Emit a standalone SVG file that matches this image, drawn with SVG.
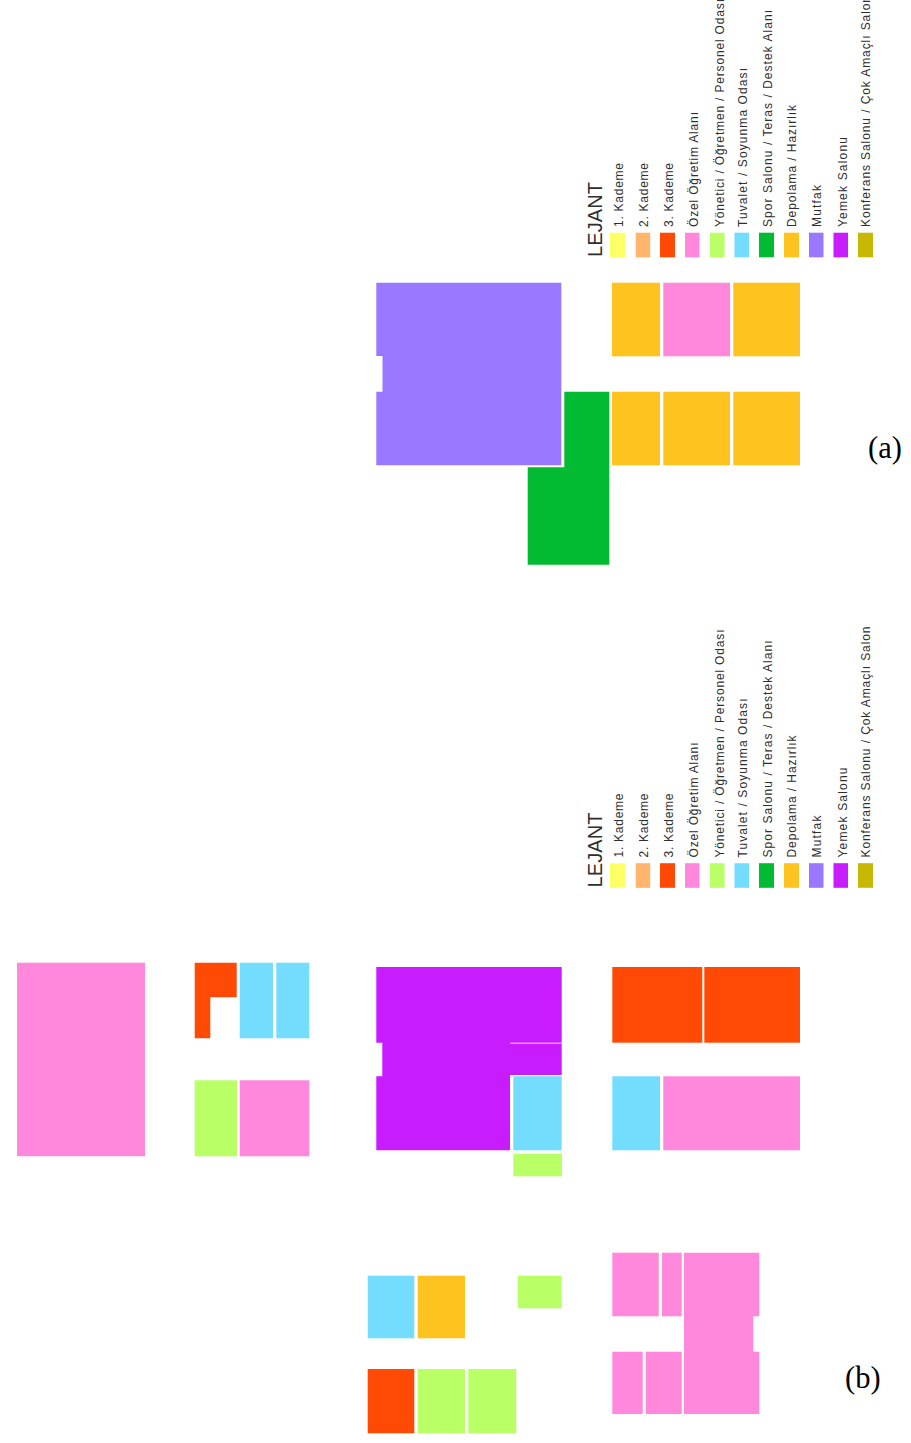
<svg xmlns="http://www.w3.org/2000/svg" width="911" height="1443" viewBox="0 0 911 1443">
<style>
.y{fill:#ffff66}.pe{fill:#ffb56b}.r{fill:#ff4a06}.p{fill:#ff88dd}.l{fill:#b9ff66}.b{fill:#73dcff}.g{fill:#03ba33}.o{fill:#ffc31f}.u{fill:#9977ff}.m{fill:#c81cff}.k{fill:#c8b806}
text{font-family:"Liberation Sans",Arial,sans-serif;fill:#2e2e2e}
.t{font-size:12px}.h{font-size:20px}
.c{font-family:"Liberation Serif","Times New Roman",serif;font-size:30.5px;fill:#000}
</style>
<defs>
<g id="legend">
<text class="h" transform="translate(602,257) rotate(-90)" textLength="75" lengthAdjust="spacing">LEJANT</text>
<rect class="y" x="610" y="232.7" width="15" height="24.6"/>
<rect class="pe" x="635.7" y="232.7" width="14.5" height="24.6"/>
<rect class="r" x="660" y="232.7" width="15" height="24.6"/>
<rect class="p" x="685" y="232.7" width="14.5" height="24.6"/>
<rect class="l" x="710" y="232.7" width="14.5" height="24.6"/>
<rect class="b" x="734.5" y="232.7" width="14.5" height="24.6"/>
<rect class="g" x="759" y="232.7" width="15" height="24.6"/>
<rect class="o" x="784" y="232.7" width="15" height="24.6"/>
<rect class="u" x="809" y="232.7" width="14.5" height="24.6"/>
<rect class="m" x="833.5" y="232.7" width="14.5" height="24.6"/>
<rect class="k" x="858" y="232.7" width="15" height="24.6"/>
<text class="t" transform="translate(623.3,227) rotate(-90)" textLength="64" lengthAdjust="spacing">1. Kademe</text>
<text class="t" transform="translate(648.3,227) rotate(-90)" textLength="64" lengthAdjust="spacing">2. Kademe</text>
<text class="t" transform="translate(672.7,227) rotate(-90)" textLength="64" lengthAdjust="spacing">3. Kademe</text>
<text class="t" transform="translate(698,227) rotate(-90)" textLength="115" lengthAdjust="spacing">Özel Öğretim Alanı</text>
<text class="t" transform="translate(724,227) rotate(-90)" textLength="228" lengthAdjust="spacing">Yönetici / Öğretmen / Personel Odası</text>
<text class="t" transform="translate(746.7,227) rotate(-90)" textLength="159" lengthAdjust="spacing">Tuvalet / Soyunma Odası</text>
<text class="t" transform="translate(771.7,227) rotate(-90)" textLength="217" lengthAdjust="spacing">Spor Salonu / Teras / Destek Alanı</text>
<text class="t" transform="translate(796,227) rotate(-90)" textLength="122" lengthAdjust="spacing">Depolama / Hazırlık</text>
<text class="t" transform="translate(820.7,227) rotate(-90)" textLength="42" lengthAdjust="spacing">Mutfak</text>
<text class="t" transform="translate(846.7,227) rotate(-90)" textLength="90" lengthAdjust="spacing">Yemek Salonu</text>
<text class="t" transform="translate(870,227) rotate(-90)" textLength="231" lengthAdjust="spacing">Konferans Salonu / Çok Amaçlı Salon</text>
</g>
</defs>
<rect width="911" height="1443" fill="#fff"/>

<g id="plan-a">
<path id="a-mutfak" class="u" d="M376.3 282.7H561.3V465.3H376.3V391.7H382.5V356H376.3Z"/>
<path id="a-spor" class="g" d="M564.3 391.7H609.3V564.7H527.7V467.3H564.3Z"/>
<rect class="o" x="612" y="282.7" width="48" height="73.6"/>
<rect class="p" x="663.3" y="282.7" width="66.7" height="73.6"/>
<rect class="o" x="733.3" y="282.7" width="66.7" height="73.6"/>
<rect class="o" x="612" y="391.7" width="48" height="73.6"/>
<rect class="o" x="663.3" y="391.7" width="66.7" height="73.6"/>
<rect class="o" x="733.3" y="391.7" width="66.7" height="73.6"/>
</g>
<use id="legend-a" href="#legend"/>
<text id="caption-a" class="c" x="868" y="458">(a)</text>

<g id="plan-b">
<rect class="p" x="17" y="962.7" width="128" height="193.5"/>
<path class="r" d="M194.7 962.7H236.7V997.3H210.3V1038.3H194.7Z"/>
<rect class="b" x="239.7" y="962.7" width="33.3" height="75.6"/>
<rect class="b" x="276.3" y="962.7" width="33" height="75.6"/>
<rect class="l" x="194.7" y="1080.3" width="42.3" height="76"/>
<rect class="p" x="239.7" y="1080.3" width="69.6" height="76"/>

<path id="b-yemek" class="m" d="M376.3 967H561.7V1042.7H510V1043.6H561.7V1075H510V1150.3H376.3V1076.3H382.3V1042.7H376.3Z"/>
<rect class="b" x="513.3" y="1076.3" width="48.4" height="74"/>
<rect class="l" x="513.3" y="1153.7" width="48.7" height="22.6"/>
<rect class="r" x="612.3" y="967" width="90" height="75.7"/>
<rect class="r" x="704.3" y="967" width="95.7" height="75.7"/>
<rect class="b" x="612.3" y="1076.3" width="47.7" height="74"/>
<rect class="p" x="663.3" y="1076.3" width="136.7" height="74"/>

<rect class="b" x="367.7" y="1275.7" width="46.6" height="62.6"/>
<rect class="o" x="417.7" y="1275.7" width="47.3" height="62.6"/>
<rect class="l" x="517.7" y="1275.7" width="44" height="32.6"/>
<rect class="r" x="367.7" y="1369" width="46.6" height="64.3"/>
<rect class="l" x="417.7" y="1369" width="47.3" height="64.3"/>
<rect class="l" x="468.3" y="1369" width="48" height="64.3"/>

<rect class="p" x="612.3" y="1252.7" width="46.4" height="63.6"/>
<rect class="p" x="662" y="1252.7" width="19.7" height="63.6"/>
<path class="p" d="M684 1252.7H759.3V1316.3H753.3V1351.7H759.3V1414H684Z"/>
<rect class="p" x="612.3" y="1351.7" width="30.4" height="62.3"/>
<rect class="p" x="645.7" y="1351.7" width="36" height="62.3"/>
</g>
<use id="legend-b" href="#legend" y="630.5"/>
<text id="caption-b" class="c" x="845" y="1388">(b)</text>
</svg>
